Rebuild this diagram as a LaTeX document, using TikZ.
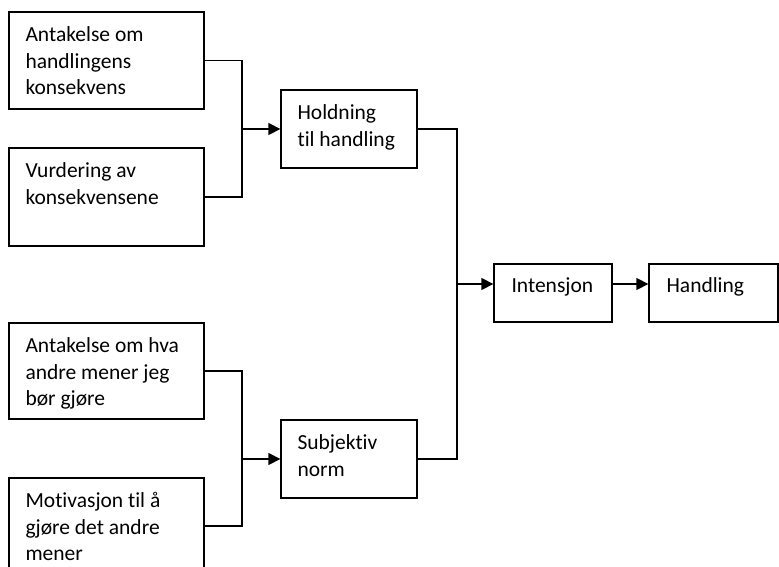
\documentclass[tikz,border=0pt]{standalone}
\usepackage{fontspec}
\setmainfont{Carlito}[Ligatures=NoCommon]
\usetikzlibrary{arrows.meta}
\begin{document}
\begin{tikzpicture}[x=1pt,y=-1pt,
  box/.style={draw,line width=1.3pt,inner sep=0pt,minimum width=#1},
  box/.default=195pt,
  txt/.style={anchor=north west,inner sep=0pt,align=left,font=\fontsize{21.5}{26.5}\selectfont},
  conn/.style={line width=1.3pt},
  arr/.style={line width=1.3pt,-{Triangle[length=12pt,width=12pt]}}]
\clip (0,0) rectangle (779,567);
% boxes
\node[box,minimum height=97pt] (b1) at (106.5,60.5) {};
\node[box,minimum height=98pt] (b2) at (106.5,197) {};
\node[box=136pt,minimum height=78pt] (hold) at (349,129) {};
\node[box=118pt,minimum height=58pt] (int) at (553,293) {};
\node[box=129pt,minimum height=58pt] (hand) at (713.5,293) {};
\node[box,minimum height=96pt] (b6) at (106.5,371) {};
\node[box=136pt,minimum height=78pt] (sub) at (349,459) {};
\node[box,minimum height=96pt] (b8) at (106.5,526) {};
% texts
\node[txt] (t1) at ([xshift=17pt,yshift=-11.5pt]b1.north west) {\strut Antakelse om\\handlingens\\konsekvens};
\node[txt] (t2) at ([xshift=17pt,yshift=-11.5pt]b2.north west) {\strut Vurdering av\\konsekvensene};
\node[txt] (t3) at ([xshift=17pt,yshift=-11.5pt]hold.north west) {\strut Holdning\\til handling};
\node[txt] (t4) at ([xshift=18pt,yshift=-10.5pt]int.north west) {\strut Intensjon};
\node[txt] (t5) at ([xshift=18pt,yshift=-10.5pt]hand.north west) {\strut Handling};
\node[txt] (t6) at ([xshift=17pt,yshift=-11.5pt]b6.north west) {\strut Antakelse om hva\\andre mener jeg\\bør gjøre};
\node[txt] (t7) at ([xshift=17pt,yshift=-11.5pt]sub.north west) {\strut Subjektiv\\norm};
\node[txt] (t8) at ([xshift=17pt,yshift=-11.5pt]b8.north west) {\strut Motivasjon til å\\gjøre det andre\\mener};
% junctions
\coordinate (j1) at (242,129);
\coordinate (j2) at (242,459);
\coordinate (j3) at (457,284);
% connectors
\draw[conn] (b1.east) -| (j1) |- (b2.east);
\draw[arr] (j1) -- (hold.west);
\draw[conn] (b6.east) -| (j2) |- (b8.east);
\draw[arr] (j2) -- (sub.west);
\draw[conn] (hold.east) -| (j3) |- (sub.east);
\draw[arr] (j3) -- (int.west |- j3);
\draw[arr] (int.east |- j3) -- (hand.west |- j3);
\end{tikzpicture}
\end{document}
